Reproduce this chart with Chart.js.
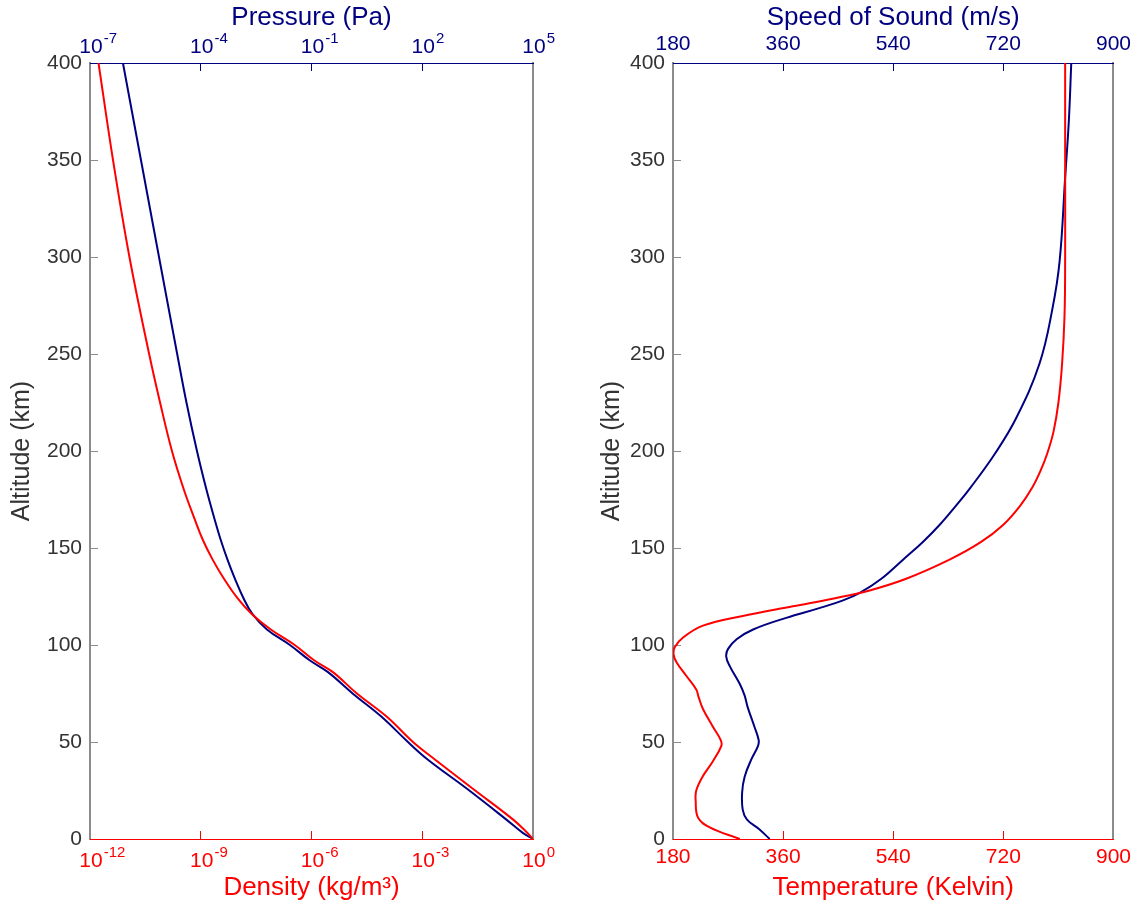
<!DOCTYPE html>
<html>
<head>
<meta charset="utf-8">
<script src="https://cdn.jsdelivr.net/npm/chart.js@4.4.1/dist/chart.umd.min.js"></script>
<style>
  html, body { margin: 0; padding: 0; background: #fff; }
  #wrap { position: relative; width: 1145px; height: 905px; }
  .box { position: absolute; top: 0; }
  #left { left: 0; }
  #right { left: 583px; }
</style>
</head>
<body>
<div id="wrap">
  <div class="box" id="left"><canvas id="atmosLeft" width="572" height="905"></canvas></div>
  <div class="box" id="right"><canvas id="atmosRight" width="562" height="905"></canvas></div>
</div>
<script>
const FONT = "'Liberation Sans', Arial, Helvetica, sans-serif";
const RED = '#ff0000';
const NAVY = '#000080';
const GREY = '#8c8c8c';
const TEXT = '#333333';

// left panel: density (bottom axis) and pressure (top axis) vs altitude
const altitudeLeft = [0, 3, 10, 26, 41, 50, 63, 75, 86, 92, 100, 108, 116, 124, 134, 144, 154, 165, 180, 200, 225, 250, 300, 350, 400];
const density = [1.0, 0.72, 0.29, 0.023, 2.2e-3, 5.6e-4, 1.1e-4, 1.7e-5, 3.8e-6, 1.2e-6, 3.5e-7, 7.9e-8, 2.4e-8, 1.0e-8, 4.3e-9, 2.1e-9, 1.15e-9, 6.8e-10, 3.5e-10, 1.66e-10, 7.9e-11, 4.0e-11, 1.17e-11, 4.2e-12, 1.7e-12];
const pressure = [1.0e5, 5.4e4, 1.9e4, 1.6e3, 140, 41, 7.9, 1.3, 0.28, 0.091, 0.026, 6.2e-3, 2.5e-3, 1.45e-3, 8.5e-4, 5.3e-4, 3.5e-4, 2.36e-4, 1.43e-4, 7.9e-5, 4.1e-5, 2.3e-5, 7.4e-6, 2.4e-6, 7.8e-7];
const densityTicks = [1e-12, 1e-9, 1e-6, 1e-3, 1];
const pressureTicks = [1e-7, 1e-4, 1e-1, 1e2, 1e5];

// right panel: temperature (bottom axis) and speed of sound (top axis)
const altitudeTemp = [0, 6, 11, 20, 25, 32, 40, 48, 51, 58, 67, 73, 77, 84, 91, 95, 99, 104, 110, 115, 120, 124, 128, 134, 144, 153, 162, 172, 181, 190, 199, 210, 225, 245, 270, 300, 350, 400];
const temperature = [289, 240, 221, 217, 218, 228, 245, 259, 258, 245, 229, 222, 218, 202, 186, 181, 183, 197, 229, 294, 376, 443, 500, 560, 632, 683, 720, 748, 767, 781, 792, 802, 810, 816, 820, 821, 821, 821];
const altitudeSound = [0, 5, 10, 15, 24, 32, 41, 48, 51, 58, 68, 74, 80, 89, 94, 98, 103, 108, 114, 119, 123, 127, 134, 144, 153, 162, 172, 181, 199, 217, 245, 273, 298, 341, 370, 400];
const soundSpeed = [338, 321, 301, 294, 293, 297, 308, 319, 320, 313, 302, 297, 289, 273, 267, 270, 284, 311, 365, 419, 458, 486, 520, 556, 588, 616, 643, 666, 707, 741, 779, 800, 812, 821, 827, 831];
const kelvinTicks = [180, 360, 540, 720, 900];
const speedTicks = [180, 360, 540, 720, 900];

// draws "10" with a raised exponent under each tick of the log axes
const powerLabels = {
    id: 'powerLabels',
    afterDraw(chart) {
        let ctx = chart.ctx;
        Object.values(chart.scales).forEach(scale => {
            if (scale.type !== 'logarithmic') return;
            let top = scale.options.position === 'top';
            ctx.save();
            ctx.fillStyle = scale.options.border.color;
            ctx.textBaseline = 'alphabetic';
            ctx.textAlign = 'left';
            scale.ticks.forEach(t => {
                let x = scale.getPixelForValue(t.value);
                let exp = String(Math.round(Math.log10(t.value)));
                ctx.font = '21px ' + FONT;
                let w = ctx.measureText('10').width;
                let y = top ? scale.bottom - 10 : scale.top + 28;
                ctx.fillText('10', x - w / 2 + 1, y);
                ctx.font = '15px ' + FONT;
                ctx.fillText(exp, x + w / 2 + 2, y - 10);
            });
            ctx.restore();
        });
    }
};

function toPoints(alts, vals) {
    return alts.map((a, i) => ({ x: vals[i], y: a }));
}

function altitudeAxis(titlePad) {
    return {
        type: 'linear', position: 'left', min: 0, max: 400,
        afterFit: s => { s.width = 90; },
        ticks: { stepSize: 50, color: TEXT, font: { family: FONT, size: 21 }, padding: 16 },
        grid: { drawOnChartArea: false, tickLength: -8, color: GREY, lineWidth: 1 },
        border: { color: GREY, width: 2 },
        title: { display: true, text: 'Altitude (km)', color: TEXT, font: { family: FONT, size: 25 }, padding: { top: titlePad, bottom: 0 } }
    };
}

function edgeAxis() {
    return {
        type: 'linear', position: 'right', min: 0, max: 400,
        afterFit: s => { s.width = 0; },
        ticks: { display: false },
        grid: { drawOnChartArea: false, drawTicks: false },
        border: { color: GREY, width: 2 }
    };
}

function xAxis(pos, color, title, tickList, extra) {
    let axis = {
        position: pos,
        afterBuildTicks: s => { s.ticks = tickList.map(v => ({ value: v })); },
        afterFit: s => { s.height = pos === 'top' ? 63 : 66; },
        ticks: { color: color, font: { family: FONT, size: 21 }, padding: 14, maxRotation: 0, autoSkip: false },
        grid: { drawOnChartArea: false, tickLength: -8, color: color, lineWidth: 1 },
        border: { color: color, width: 1 },
        title: { display: true, text: title, color: color, font: { family: FONT, size: 26 },
                 padding: pos === 'top' ? { top: 2, bottom: 0 } : { top: 0, bottom: 2 } }
    };
    return Object.assign(axis, extra);
}

function baseOptions(padRight, scales) {
    return {
        responsive: false,
        animation: false,
        indexAxis: 'y',
        layout: { padding: { left: 0, right: padRight, top: 0, bottom: 0 } },
        plugins: { legend: { display: false }, tooltip: { enabled: false } },
        elements: {
            point: { radius: 0 },
            line: { borderWidth: 2, tension: 0.4 }
        },
        scales: scales
    };
}

let leftChart = new Chart(document.getElementById('atmosLeft').getContext('2d'), {
    type: 'line',
    data: {
        datasets: [
            { label: 'Density', data: toPoints(altitudeLeft, density), xAxisID: 'xDensity', yAxisID: 'y', borderColor: RED, fill: false },
            { label: 'Pressure', data: toPoints(altitudeLeft, pressure), xAxisID: 'xPressure', yAxisID: 'y', borderColor: NAVY, fill: false }
        ]
    },
    options: baseOptions(39, {
        y: altitudeAxis(7),
        yEdge: edgeAxis(),
        xDensity: xAxis('bottom', RED, 'Density (kg/m\u00B3)', densityTicks,
            { type: 'logarithmic', min: 1e-12, max: 1 }),
        xPressure: xAxis('top', NAVY, 'Pressure (Pa)', pressureTicks,
            { type: 'logarithmic', min: 1e-7, max: 1e5 })
    }),
    plugins: [powerLabels]
});
leftChart.options.scales.xDensity.ticks.display = false;
leftChart.options.scales.xPressure.ticks.display = false;
leftChart.update();

let rightChart = new Chart(document.getElementById('atmosRight').getContext('2d'), {
    type: 'line',
    data: {
        datasets: [
            { label: 'Temperature', data: toPoints(altitudeTemp, temperature), xAxisID: 'xTemp', yAxisID: 'y', borderColor: RED, fill: false },
            { label: 'Speed of Sound', data: toPoints(altitudeSound, soundSpeed), xAxisID: 'xSpeed', yAxisID: 'y', borderColor: NAVY, fill: false }
        ]
    },
    options: baseOptions(29, {
        y: altitudeAxis(14),
        yEdge: edgeAxis(),
        xTemp: xAxis('bottom', RED, 'Temperature (Kelvin)', kelvinTicks,
            { type: 'linear', min: 180, max: 900 }),
        xSpeed: xAxis('top', NAVY, 'Speed of Sound (m/s)', speedTicks,
            { type: 'linear', min: 180, max: 900 })
    })
});
</script>
</body>
</html>
